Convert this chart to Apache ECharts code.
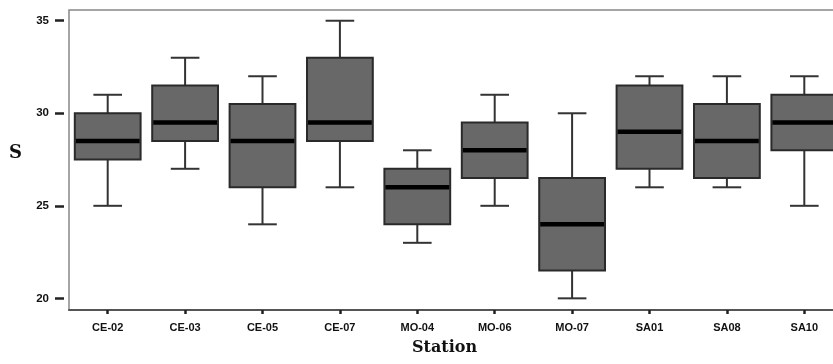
<!DOCTYPE html>
<html>
<head>
<meta charset="utf-8">
<script src="https://cdn.jsdelivr.net/npm/echarts@6/dist/echarts.min.js"></script>
<style>
html,body{margin:0;padding:0;background:#fff;}
#chart{width:833px;height:364px;}
</style>
</head>
<body>
<div id="chart"></div>
<script>
var categories = ['CE-02','CE-03','CE-05','CE-07','MO-04','MO-06','MO-07','SA01','SA08','SA10'];
var lowWhisker  = [25,   27,   24,   26,   23, 25,   20,   26,   26,   25];
var q1          = [27.5, 28.5, 26,   28.5, 24, 26.5, 21.5, 27,   26.5, 28];
var median      = [28.5, 29.5, 28.5, 29.5, 26, 28,   24,   29,   28.5, 29.5];
var q3          = [30,   31.5, 30.5, 33,   27, 29.5, 26.5, 31.5, 30.5, 31];
var highWhisker = [31,   33,   32,   35,   28, 31,   30,   32,   32,   32];
var yTicks = [20, 25, 30, 35];
var xTitle = 'Station';
var yTitle = 'S';

var data = categories.map(function (c, i) {
  return [i, lowWhisker[i], q1[i], median[i], q3[i], highWhisker[i]];
});

function renderBox(params, api) {
  var x = api.value(0);
  var pLow = api.coord([x, api.value(1)]);
  var pQ1 = api.coord([x, api.value(2)]);
  var pMed = api.coord([x, api.value(3)]);
  var pQ3 = api.coord([x, api.value(4)]);
  var pHigh = api.coord([x, api.value(5)]);
  var band = api.size([1, 0])[0];
  var bw = band * 0.85;
  var cw = band * 0.37;
  var cx = pMed[0];
  var lineStyle = {stroke: '#333', lineWidth: 2};
  return {
    type: 'group',
    children: [
      {type: 'line', shape: {x1: cx, y1: pHigh[1], x2: cx, y2: pQ3[1]}, style: lineStyle},
      {type: 'line', shape: {x1: cx, y1: pQ1[1], x2: cx, y2: pLow[1]}, style: lineStyle},
      {type: 'line', shape: {x1: cx - cw / 2, y1: pHigh[1], x2: cx + cw / 2, y2: pHigh[1]}, style: lineStyle},
      {type: 'line', shape: {x1: cx - cw / 2, y1: pLow[1], x2: cx + cw / 2, y2: pLow[1]}, style: lineStyle},
      {type: 'rect', shape: {x: cx - bw / 2, y: pQ3[1], width: bw, height: pQ1[1] - pQ3[1]},
        style: {fill: '#686868', stroke: '#2a2a2a', lineWidth: 2}},
      {type: 'line', shape: {x1: cx - bw / 2 + 1, y1: pMed[1], x2: cx + bw / 2 - 1, y2: pMed[1]},
        style: {stroke: '#000', lineWidth: 4.5}}
    ]
  };
}

var chart = echarts.init(document.getElementById('chart'), null, {renderer: 'canvas'});
chart.setOption({
  backgroundColor: '#fff',
  animation: false,
  grid: {left: 69, top: 10, width: 774, height: 300, outerBoundsMode: 'none', containLabel: false,
    show: true, borderColor: '#888', borderWidth: 1.5, backgroundColor: 'transparent'},
  xAxis: {
    type: 'category',
    data: categories,
    boundaryGap: true,
    axisLine: {show: true, lineStyle: {color: '#555', width: 2}},
    axisTick: {show: true, alignWithLabel: true, length: 4, lineStyle: {color: '#222', width: 2.5}},
    axisLabel: {margin: 12, color: '#111', fontFamily: 'Liberation Sans, Arial, sans-serif', fontWeight: 'bold', fontSize: 11},
    splitLine: {show: false}
  },
  yAxis: {
    type: 'value',
    min: 19.37,
    max: 35.58,
    offset: 5,
    axisLine: {show: false},
    axisTick: {show: true, length: 9, customValues: yTicks, lineStyle: {color: '#222', width: 2.5}},
    axisLabel: {customValues: yTicks, margin: 15, color: '#111', fontFamily: 'Liberation Sans, Arial, sans-serif', fontWeight: 'bold', fontSize: 11.5},
    splitLine: {show: false}
  },
  graphic: [
    {type: 'text', left: 412, top: 340, style: {text: xTitle, fill: '#111', font: 'bold 16px "DejaVu Serif", serif'}},
    {type: 'text', left: 9, top: 144, style: {text: yTitle, fill: '#111', font: 'bold 18px "DejaVu Serif", serif'}}
  ],
  series: [{
    type: 'custom',
    renderItem: renderBox,
    encode: {x: 0, y: [1, 2, 3, 4, 5]},
    data: data,
    clip: false
  }]
});
</script>
</body>
</html>
